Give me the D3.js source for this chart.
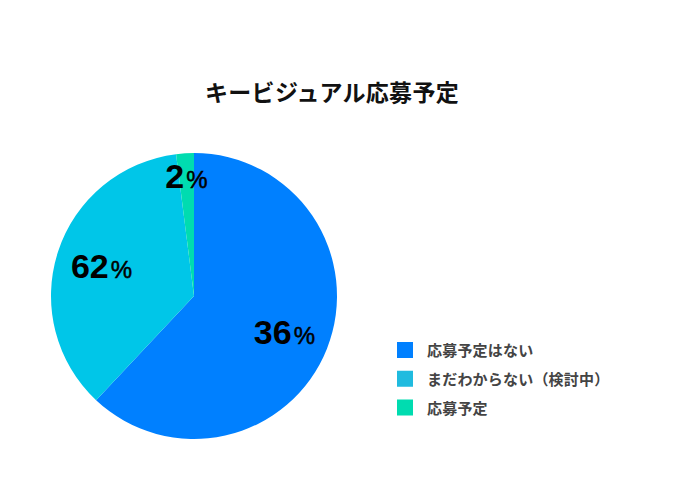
<!DOCTYPE html>
<html>
<head>
<meta charset="utf-8">
<script src="https://cdn.jsdelivr.net/npm/d3@7"></script>
<style>
  html, body { margin: 0; padding: 0; background: #fff; }
  svg { display: block; }
</style>
</head>
<body>
<svg id="chart" width="680" height="480"></svg>
<script>
const title = "キービジュアル応募予定";
const categories = ["応募予定はない", "まだわからない（検討中）", "応募予定"];
const values = [36, 62, 2];
const sliceColors = ["#0080ff", "#00c6e8", "#00dcb0"];
const legendColors = ["#0080ff", "#20bbdf", "#00dcb0"];

const svg = d3.select("#chart");
const W = 680, H = 480;
const cx = 194, cy = 296, R = 143;

svg.append("rect").attr("width", W).attr("height", H).attr("fill", "#fff");

svg.append("text")
  .attr("x", 205).attr("y", 101)
  .attr("text-anchor", "start")
  .attr("font-family", "'Noto Sans CJK JP', sans-serif")
  .attr("font-weight", 700)
  .attr("font-size", 23)
  .attr("letter-spacing", 0.3)
  .attr("fill", "#111")
  .text(title);

// pie (sorted by value, descending), slices coloured by position order
const pie = d3.pie().value(d => d).sort((a, b) => b - a);
const arcs = pie(values).sort((a, b) => a.startAngle - b.startAngle);
const arc = d3.arc().innerRadius(0).outerRadius(R);

const g = svg.append("g").attr("transform", `translate(${cx},${cy})`);
g.selectAll("path.slice")
  .data(arcs)
  .join("path")
  .attr("class", "slice")
  .attr("d", arc)
  .attr("fill", (d, i) => sliceColors[i]);

// labels: values in data order, placed on slices in drawing order
const labelPos = d => {
  const frac = (d.endAngle - d.startAngle) / (2 * Math.PI);
  const r = frac < 0.05 ? R * 0.84 : R * 0.68;
  return d3.arc().innerRadius(r).outerRadius(r).centroid(d);
};
const labels = g.selectAll("text.lbl")
  .data(arcs)
  .join("text")
  .attr("class", "lbl")
  .attr("x", d => labelPos(d)[0])
  .attr("y", d => labelPos(d)[1] + 12)
  .attr("text-anchor", "middle")
  .attr("font-family", "'Liberation Sans', Arial, sans-serif")
  .attr("fill", "#000");
labels.append("tspan")
  .attr("font-size", 34).attr("font-weight", 700)
  .text((d, i) => values[i]);
labels.append("tspan")
  .attr("dx", 2)
  .attr("font-size", 24).attr("font-weight", 400)
  .attr("stroke", "#000").attr("stroke-width", 0.5)
  .text("%");

// legend
const legend = svg.append("g").attr("transform", "translate(397,342)");
const rows = legend.selectAll("g.row")
  .data(categories)
  .join("g")
  .attr("class", "row")
  .attr("transform", (d, i) => `translate(0,${i * 28.75})`);
rows.append("rect")
  .attr("width", 16).attr("height", 16)
  .attr("fill", (d, i) => legendColors[i]);
rows.append("text")
  .attr("x", 30).attr("y", 14)
  .attr("font-family", "'Noto Sans CJK JP', sans-serif")
  .attr("font-weight", 700)
  .attr("font-size", 15)
  .attr("letter-spacing", 0.2)
  .attr("fill", "#444")
  .text(d => d);
</script>
</body>
</html>
